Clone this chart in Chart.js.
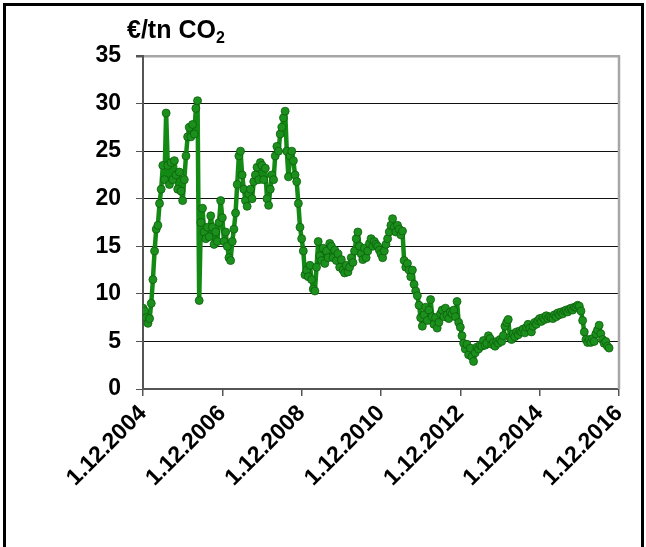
<!DOCTYPE html>
<html>
<head>
<meta charset="utf-8">
<script src="https://cdn.jsdelivr.net/npm/chart.js@4/dist/chart.umd.min.js"></script>
<style>
  html, body { margin: 0; padding: 0; background: #fff; }
  #wrap { position: relative; width: 646px; height: 547px; overflow: hidden; }
  #frame { position: absolute; left: 3px; top: 3px; width: 635px; height: 600px; border: 3px solid #000; }
  #unit { position: absolute; left: 127px; top: 15px; font: bold 25px "Liberation Sans", Arial, sans-serif; color: #000; white-space: nowrap; }
  #unit sub { font-size: 16px; vertical-align: -5px; line-height: 0; }
  canvas { position: absolute; left: 0; top: 0; }
</style>
</head>
<body>
<div id="wrap">
  <div id="frame"></div>
  <canvas id="c" width="646" height="547"></canvas>
  <div id="unit">€/tn CO<sub>2</sub></div>
</div>
<script>
// EUA price, EUR per tonne CO2, sampled twice a month from 1 Dec 2004
const startYear = 2004;
const samplesPerMonth = 2;
const prices = [
  8.5, 8.2, 7.5, 6.9, 7.4, 9.0, 11.5, 14.5, 16.8, 17.2,
  19.5, 21.0, 23.5, 22.0, 29.0, 23.5, 21.5, 23.8, 22.0, 24.0,
  22.5, 21.0, 22.8, 20.8, 19.8, 22.0, 24.5, 26.5, 27.5, 26.5,
  27.8, 26.8, 29.5, 30.3, 9.3, 17.5, 19.0, 16.5, 15.8, 17.0,
  16.0, 18.2, 17.0, 15.2, 16.5, 15.5, 17.5, 19.8, 18.0, 15.5,
  16.5, 15.0, 13.8, 13.5, 15.5, 16.8, 18.5, 21.5, 24.5, 25.0,
  22.5, 21.0, 19.8, 19.2, 20.5, 21.0, 20.0, 21.8, 22.5, 23.3,
  22.0, 23.8, 23.5, 22.0, 23.2, 20.0, 19.3, 21.0, 22.5, 22.0,
  24.5, 25.5, 25.0, 26.8, 27.5, 28.5, 29.2, 25.0, 22.3, 24.5,
  25.0, 24.0, 22.5, 21.8, 19.5, 17.0, 15.8, 14.5, 12.0, 12.5,
  11.8, 13.0, 11.5, 10.5, 10.3, 12.8, 15.5, 14.0, 13.5, 14.8,
  13.2, 14.5, 13.8, 15.3, 15.0, 13.8, 14.6, 13.5, 14.2, 12.8,
  13.6, 12.5, 12.2, 13.0, 12.3, 12.8, 13.8, 13.3, 14.5, 15.8,
  16.5, 15.0, 14.2, 13.6, 14.8, 13.8, 14.5, 15.3, 15.8, 15.0,
  15.5, 15.2, 15.0, 14.6, 14.2, 13.8, 14.5, 15.2, 15.8, 16.5,
  17.2, 17.9, 17.0, 16.5, 17.2, 16.8, 16.2, 16.6, 13.5, 12.8,
  13.2, 12.5, 11.8, 12.5, 11.0, 10.3, 9.8, 8.8, 7.5, 6.6,
  7.8, 8.6, 7.2, 8.3, 9.4, 7.6, 6.8, 7.5, 6.4, 7.0,
  7.9, 8.3, 7.6, 8.5, 7.8, 7.4, 8.1, 7.9, 8.3, 7.6,
  9.2, 7.0, 6.5, 5.6, 4.8, 4.2, 4.7, 3.6, 4.3, 3.4,
  2.9, 3.8, 4.4, 4.2, 4.6, 4.5, 5.1, 4.6, 4.8, 5.6,
  5.3, 4.7, 4.9, 4.5, 5.0, 4.8, 5.2, 5.0, 5.6, 6.6,
  7.0, 7.3, 5.4, 5.2, 5.8, 5.5, 6.0, 5.7, 6.1, 6.0,
  6.3, 5.9, 6.5, 6.8, 6.4, 6.0, 6.6, 7.0, 6.8, 7.2,
  7.4, 7.1, 7.5, 7.3, 7.7, 7.4, 7.6, 7.5, 7.4, 7.8,
  7.6, 8.0, 7.8, 8.1, 7.9, 8.2, 8.3, 8.1, 8.4, 8.5,
  8.3, 8.6, 8.6, 8.8, 8.7, 8.2, 7.2, 6.0, 5.2, 4.9,
  5.2, 4.9, 5.3, 5.0, 5.8, 6.2, 6.7, 5.8, 5.2, 4.8,
  5.0, 4.5, 4.3
];
// x positions in months after 1.12.2004
const months = prices.map((_, i) => i / samplesPerMonth);
const tickMonths = [0, 24, 48, 72, 96, 120, 144];
const tickLabels = ['1.12.2004', '1.12.2006', '1.12.2008', '1.12.2010', '1.12.2012', '1.12.2014', '1.12.2016'];
const yTicks = [0, 5, 10, 15, 20, 25, 30, 35];

const FONT = { family: '"Liberation Sans", Arial, sans-serif', size: 23, weight: 'bold' };

// grey right frame of the plot area
const plotFrame = {
  id: 'plotFrame',
  beforeDatasetsDraw(chart) {
    const { ctx, chartArea: a } = chart;
    ctx.save();
    ctx.strokeStyle = '#a6a6a6';
    ctx.lineWidth = 2.5;
    ctx.beginPath();
    ctx.moveTo(a.right, a.top - 1);
    ctx.lineTo(a.right, a.bottom);
    ctx.stroke();
    ctx.restore();
  }
};

new Chart(document.getElementById('c'), {
  type: 'line',
  data: {
    datasets: [{
      data: months.map((m, i) => ({ x: m, y: prices[i] })),
      borderColor: '#138a13',
      borderWidth: 4.5,
      borderJoinStyle: 'round',
      borderCapStyle: 'round',
      pointRadius: 4,
      pointBackgroundColor: '#1c901c',
      pointBorderColor: '#0d600d',
      pointBorderWidth: 0.8,
      tension: 0
    }]
  },
  options: {
    responsive: false,
    animation: false,
    layout: { padding: { left: 0, top: 56, right: 27, bottom: 0 } },
    plugins: { legend: { display: false }, tooltip: { enabled: false } },
    scales: {
      x: {
        type: 'linear',
        min: tickMonths[0],
        max: tickMonths[tickMonths.length - 1],
        afterBuildTicks: s => { s.ticks = tickMonths.map(v => ({ value: v })); },
        afterFit: s => { s.height = 547 - 389; },
        ticks: {
          autoSkip: false,
          maxRotation: 45,
          minRotation: 45,
          padding: 4,
          color: '#000',
          font: FONT,
          callback: v => tickLabels[tickMonths.indexOf(v)]
        },
        grid: { drawOnChartArea: false, drawTicks: true, tickLength: 7, color: '#555', lineWidth: 1.5 },
        border: { color: '#555', width: 2 }
      },
      y: {
        min: 0,
        max: 35,
        afterBuildTicks: s => { s.ticks = yTicks.map(v => ({ value: v })); },
        afterFit: s => { s.width = 143; },
        ticks: { padding: 15, color: '#000', font: FONT },
        grid: {
          color: c => (c.tick && c.tick.value === 35) ? '#a6a6a6' : '#111',
          lineWidth: c => (c.tick && c.tick.value === 35) ? 2.5 : 1,
          tickColor: '#555',
          tickLength: 7,
          drawTicks: true
        },
        border: { color: '#555', width: 2 }
      }
    }
  },
  plugins: [plotFrame]
});
</script>
</body>
</html>
